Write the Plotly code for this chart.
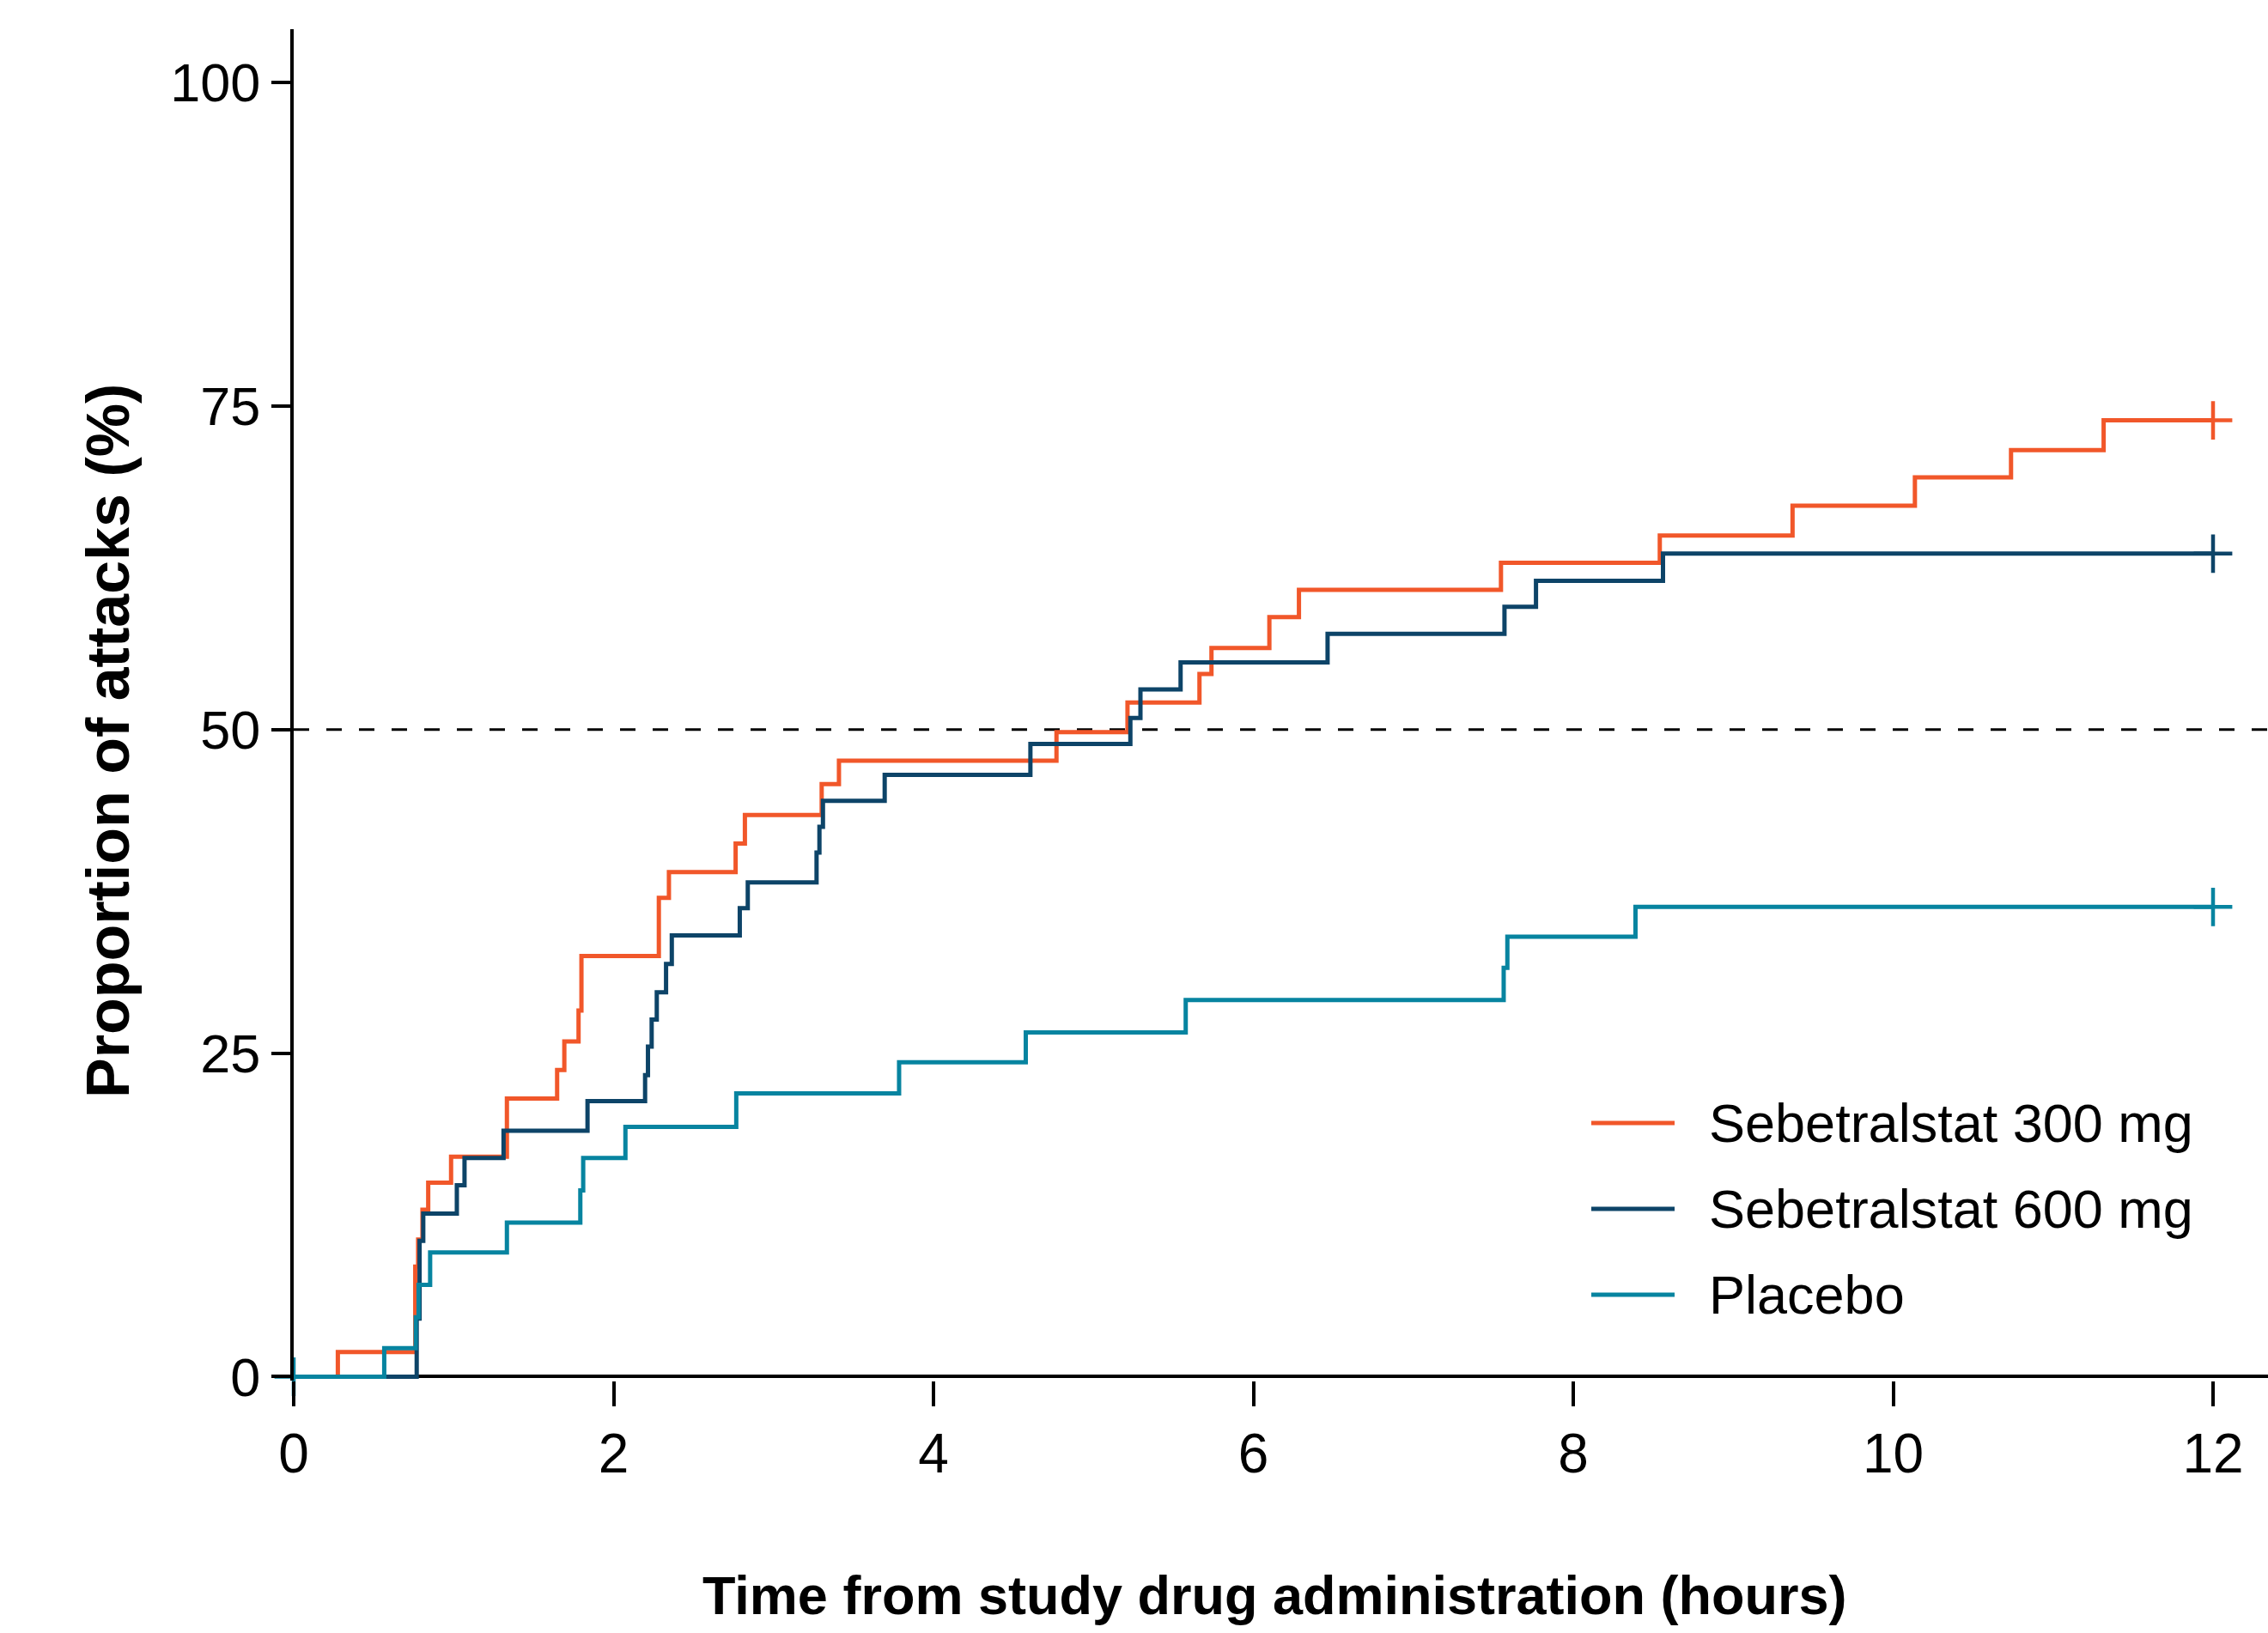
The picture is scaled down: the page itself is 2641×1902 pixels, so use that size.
import plotly.graph_objects as go

# ---- data ----
t_300 = [0, 0.276, 0.760, 0.778, 0.805, 0.841, 0.984, 1.333, 1.647, 1.692, 1.781, 1.799,
         2.283, 2.346, 2.763, 2.821, 3.301, 3.409, 4.769, 5.213, 5.663, 5.738, 6.100,
         6.285, 7.548, 8.541, 9.371, 10.136, 10.737, 11.316, 12.0]
p_300 = [0, 1.9, 8.5, 10.6, 12.9, 15.0, 17.0, 21.5, 23.7, 25.9, 28.3, 32.5,
         37.0, 39.0, 41.2, 43.4, 45.8, 47.6, 49.8, 52.1, 54.3, 56.3, 58.7,
         60.8, 62.9, 65.0, 67.3, 69.5, 71.6, 73.9, 73.9]

t_600 = [0, 0.769, 0.787, 0.810, 1.020, 1.068, 1.312, 1.837, 2.197, 2.215, 2.238, 2.270,
         2.328, 2.364, 2.789, 2.839, 3.269, 3.287, 3.309, 3.695, 4.606, 5.231, 5.294,
         5.545, 6.464, 7.570, 7.767, 8.561, 12.0]
p_600 = [0, 4.5, 10.5, 12.6, 14.8, 16.9, 19.0, 21.3, 23.3, 25.5, 27.6, 29.7,
         31.9, 34.1, 36.2, 38.2, 40.5, 42.5, 44.5, 46.5, 48.9, 50.9, 53.1,
         55.2, 57.4, 59.5, 61.5, 63.6, 63.6]

t_pbo = [0, 0.566, 0.763, 0.781, 0.853, 1.333, 1.792, 1.810, 2.074, 2.767, 3.785,
         4.577, 5.577, 7.565, 7.588, 8.389, 12.0]
p_pbo = [0, 2.2, 4.6, 7.1, 9.6, 11.9, 14.4, 16.9, 19.3, 21.9, 24.3,
         26.6, 29.1, 31.6, 34.0, 36.3, 36.3]

# censored observations (+)
cens_t_300 = [12.0]
cens_p_300 = [73.9]
cens_t_600 = [12.0]
cens_p_600 = [63.6]
cens_t_pbo = [0.0, 12.0]
cens_p_pbo = [0.0, 36.3]

series_names = ["Sebetralstat 300 mg", "Sebetralstat 600 mg", "Placebo"]
x_ticks = [0, 2, 4, 6, 8, 10, 12]
y_ticks = [0, 25, 50, 75, 100]
median_line = 50

# ---- styling ----
colors = ["#F1572A", "#0D4468", "#0784A0"]
FONT = "Liberation Sans, Arial, Helvetica, sans-serif"
W, H = 2641, 1902
ML, MR, MT, MB = 342, 0, 34, 294

fig = go.Figure()
curves = [(t_300, p_300, cens_t_300, cens_p_300),
          (t_600, p_600, cens_t_600, cens_p_600),
          (t_pbo, p_pbo, cens_t_pbo, cens_p_pbo)]
for (t, p, ct, cp), name, col in zip(curves, series_names, colors):
    fig.add_trace(go.Scatter(x=t, y=p, mode="lines", name=name,
                             line=dict(color=col, width=5, shape="hv"),
                             showlegend=False, cliponaxis=False))
for (t, p, ct, cp), name, col in zip(curves, series_names, colors):
    fig.add_trace(go.Scatter(x=ct, y=cp, mode="markers", name=name + " (censored)",
                             marker=dict(symbol="cross-thin", size=32,
                                         line=dict(color=col, width=4.5)),
                             showlegend=False, cliponaxis=False))

# reference line at 50 %
fig.add_shape(type="line", xref="paper", yref="y", x0=0, x1=1,
              y0=median_line, y1=median_line,
              line=dict(color="black", width=3, dash="18px,20px"), layer="below")

plot_w = W - ML - MR
plot_h = H - MT - MB


def px_to_paper_x(px):
    return (px - ML) / plot_w


def px_to_paper_y(py):
    return (H - MB - py) / plot_h


# manual legend with long line samples
leg_rows = [1308, 1408, 1508]
for name, col, py in zip(series_names, colors, leg_rows):
    yp = px_to_paper_y(py)
    fig.add_shape(type="line", xref="paper", yref="paper",
                  x0=px_to_paper_x(1853), x1=px_to_paper_x(1950), y0=yp, y1=yp,
                  line=dict(color=col, width=5))
    fig.add_annotation(xref="paper", yref="paper", x=px_to_paper_x(1988), y=yp,
                       text=name, showarrow=False, xanchor="left", yanchor="middle",
                       font=dict(family=FONT, size=63, color="black"))

# axis titles
fig.add_annotation(xref="paper", yref="paper", x=px_to_paper_x(1484), y=px_to_paper_y(1858),
                   text="<b>Time from study drug administration (hours)</b>",
                   showarrow=False, xanchor="center", yanchor="middle",
                   font=dict(family=FONT, size=63, color="black"))
fig.add_annotation(xref="paper", yref="paper", x=px_to_paper_x(126), y=px_to_paper_y(863),
                   text="<b>Proportion of attacks (%)</b>", textangle=-90,
                   showarrow=False, xanchor="center", yanchor="middle",
                   font=dict(family=FONT, size=70, color="black"))

fig.update_xaxes(range=[0, plot_w / 186.25], tickvals=x_ticks, ticktext=[str(v) for v in x_ticks],
                 showline=False, showgrid=False, zeroline=False,
                 ticks="outside", ticklen=29, tickwidth=4, tickcolor="black",
                 tickfont=dict(family=FONT, size=64, color="black"))
fig.update_yaxes(range=[-0.3, -0.3 + plot_h / 15.073], tickvals=y_ticks,
                 ticktext=[str(v) for v in y_ticks],
                 showline=True, linewidth=4, linecolor="black", showgrid=False,
                 zeroline=True, zerolinecolor="black", zerolinewidth=4,
                 ticks="outside", ticklen=22, tickwidth=4, tickcolor="black",
                 tickfont=dict(family=FONT, size=63, color="black"))

fig.update_layout(width=W, height=H, autosize=False,
                  margin=dict(l=ML, r=MR, t=MT, b=MB, pad=0),
                  plot_bgcolor="white", paper_bgcolor="white",
                  font=dict(family=FONT, color="black"),
                  showlegend=False)

fig.write_html("out.html", config={"displayModeBar": False, "responsive": False},
               post_script="document.body.style.margin='0px';document.body.style.overflow='hidden';")
